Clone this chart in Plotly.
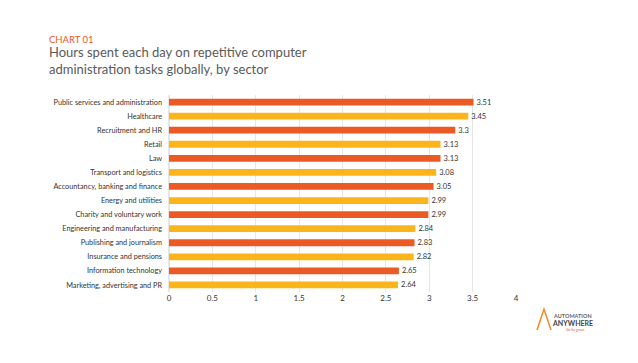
import plotly.graph_objects as go

sectors = [
    "Public services and administration",
    "Healthcare",
    "Recruitment and HR",
    "Retail",
    "Law",
    "Transport and logistics",
    "Accountancy, banking and finance",
    "Energy and utilities",
    "Charity and voluntary work",
    "Engineering and manufacturing",
    "Publishing and journalism",
    "Insurance and pensions",
    "Information technology",
    "Marketing, advertising and PR",
]
hours = [3.51, 3.45, 3.3, 3.13, 3.13, 3.08, 3.05, 2.99, 2.99, 2.84, 2.83, 2.82, 2.65, 2.64]
value_labels = ["3.51", "3.45", "3.3", "3.13", "3.13", "3.08", "3.05", "2.99", "2.99", "2.84", "2.83", "2.82", "2.65", "2.64"]
x_ticks = [0, 0.5, 1, 1.5, 2, 2.5, 3, 3.5, 4]
x_tick_labels = ["0", "0.5", "1", "1.5", "2", "2.5", "3", "3.5", "4"]

RED = "#EB5A25"
YEL = "#FBB419"
colors = [RED if i % 2 == 0 else YEL for i in range(len(sectors))]

FONT = "Lato, Open Sans, sans-serif"

W, H = 638, 363
ML, MR, MT, MB = 169, 122, 95, 71

fig = go.Figure(go.Bar(
    x=hours, y=sectors, orientation="h",
    marker=dict(color=colors, line=dict(width=0)),
    width=0.48,
    text=value_labels, textposition="outside",
    constraintext="none",
    textfont=dict(size=7.5, color="#333333", family=FONT),
    cliponaxis=False,
))


def px_x(p):
    return (p - ML) / (W - ML - MR)


def px_y(p):
    return 1 - (p - MT) / (H - MT - MB)


anns = [
    dict(text="CHART 01", x=px_x(47), y=px_y(40), xanchor="left", yanchor="middle",
         font=dict(size=9.5, color="#E9582A", family=FONT)),
    dict(text="Hours spent each day on repetitive computer<br>administration tasks globally, by sector",
         x=px_x(47), y=px_y(61), xanchor="left", yanchor="middle", align="left",
         font=dict(size=13, color="#5A5A5A", family=FONT)),
    dict(text="<b>AUTOMATION</b>", x=px_x(551), y=px_y(316), xanchor="left", yanchor="middle",
         font=dict(size=5.5, color="#666666", family=FONT)),
    dict(text="<b>ANYWHERE</b>", x=px_x(550), y=px_y(323), xanchor="left", yanchor="middle",
         font=dict(size=7, color="#444444", family=FONT)),
    dict(text="Go be great.", x=px_x(564), y=px_y(330), xanchor="left", yanchor="middle",
         font=dict(size=3.5, color="#E9582A", family=FONT)),
]
for a in anns:
    a.update(xref="paper", yref="paper", showarrow=False)

fig.update_layout(
    width=W, height=H,
    margin=dict(l=ML, r=MR, t=MT, b=MB),
    paper_bgcolor="white", plot_bgcolor="white",
    showlegend=False,
    font=dict(family=FONT, color="#333333", size=8),
    xaxis=dict(range=[0, 4], tickvals=x_ticks, ticktext=x_tick_labels,
               showgrid=True, gridcolor="#E6E6E6", gridwidth=1,
               zeroline=True, zerolinecolor="#E6E6E6",
               tickfont=dict(size=8, color="#333333"), ticks="", fixedrange=True),
    yaxis=dict(categoryorder="array", categoryarray=sectors[::-1],
               tickfont=dict(size=7.3, color="#333333"), ticks="",
               ticklabelstandoff=6, showgrid=False),
    annotations=anns,
)

fig.add_shape(type="path", xref="paper", yref="paper",
              path=f"M {px_x(537)},{px_y(330)} L {px_x(544)},{px_y(309)} L {px_x(551)},{px_y(330)}",
              line=dict(color="#F08A2A", width=1.5))

fig.write_html("out.html",
               config={"displayModeBar": False},
               post_script="document.body.style.margin='0';document.body.style.padding='0';")
